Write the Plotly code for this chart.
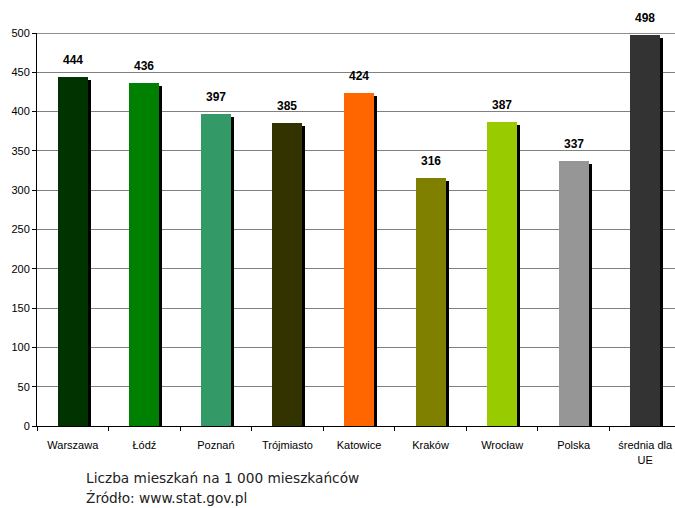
import plotly.graph_objects as go

# Liczba mieszkań na 1 000 mieszkańców
miasta = ["Warszawa", "Łódź", "Poznań", "Trójmiasto", "Katowice",
          "Kraków", "Wrocław", "Polska", "średnia dla<br>UE"]
wartosci = [444, 436, 397, 385, 424, 316, 387, 337, 498]
kolory = ["#003300", "#008000", "#339966", "#333300", "#FF6600",
          "#808000", "#99CC00", "#969696", "#333333"]
stopka = ["Liczba mieszkań na 1 000 mieszkańców", "Źródło: www.stat.gov.pl"]

px_per_cat = 71.5
px_per_unit = 393 / 500
bar_w = 30 / px_per_cat
cien_dx = 3 / px_per_cat          # shadow shift in category units
cien_dy = 3 / px_per_unit         # shadow drop in value units

fig = go.Figure()

# drop shadow behind each bar
fig.add_trace(go.Bar(
    x=miasta, y=[v - cien_dy for v in wartosci],
    width=bar_w, offset=-bar_w / 2 + cien_dx,
    marker=dict(color="#000000", line=dict(width=0)),
    hoverinfo="skip", showlegend=False,
))
fig.add_trace(go.Bar(
    x=miasta, y=wartosci,
    width=bar_w, offset=-bar_w / 2,
    marker=dict(color=kolory, line=dict(width=0)),
    showlegend=False,
))

for m, v in zip(miasta, wartosci):
    fig.add_annotation(x=m, y=v, text=f"<b>{v}</b>", showarrow=False,
                       yanchor="bottom", yshift=8,
                       font=dict(family="Liberation Sans", size=12, color="#000"))

# footer lines below the plot area
for i, linia in enumerate(stopka):
    fig.add_annotation(xref="paper", yref="paper", x=(84 - 37) / 638,
                       y=-(52 + 20 * i) / 393,
                       xanchor="left", yanchor="middle", showarrow=False,
                       text=linia,
                       font=dict(family="DejaVu Sans", size=13.7, color="#222222"))

# darker top edge of the plot area
fig.add_shape(type="line", xref="paper", yref="y", x0=0, x1=1, y0=500, y1=500,
              line=dict(color="#202020", width=1))

fig.update_layout(
    width=675, height=508,
    margin=dict(l=37, r=0, t=33, b=82),
    paper_bgcolor="white", plot_bgcolor="white",
    barmode="overlay", bargap=0,
    xaxis=dict(
        range=[-0.5, 8.5 - 6 / px_per_cat],
        tickson="boundaries", ticks="outside", ticklen=4, tickcolor="#000",
        showline=True, linecolor="#000", linewidth=1,
        tickfont=dict(family="Liberation Sans", size=11, color="#000"),
        ticklabelstandoff=9,
        showgrid=False,
    ),
    yaxis=dict(
        range=[0, 500], dtick=50, tick0=0,
        ticks="outside", ticklen=4, tickcolor="#000",
        showline=True, linecolor="#000", linewidth=1,
        gridcolor="#808080", gridwidth=1,
        tickfont=dict(family="Liberation Sans", size=11, color="#000"),
        zeroline=False,
    ),
)

fig.write_html("out.html")
